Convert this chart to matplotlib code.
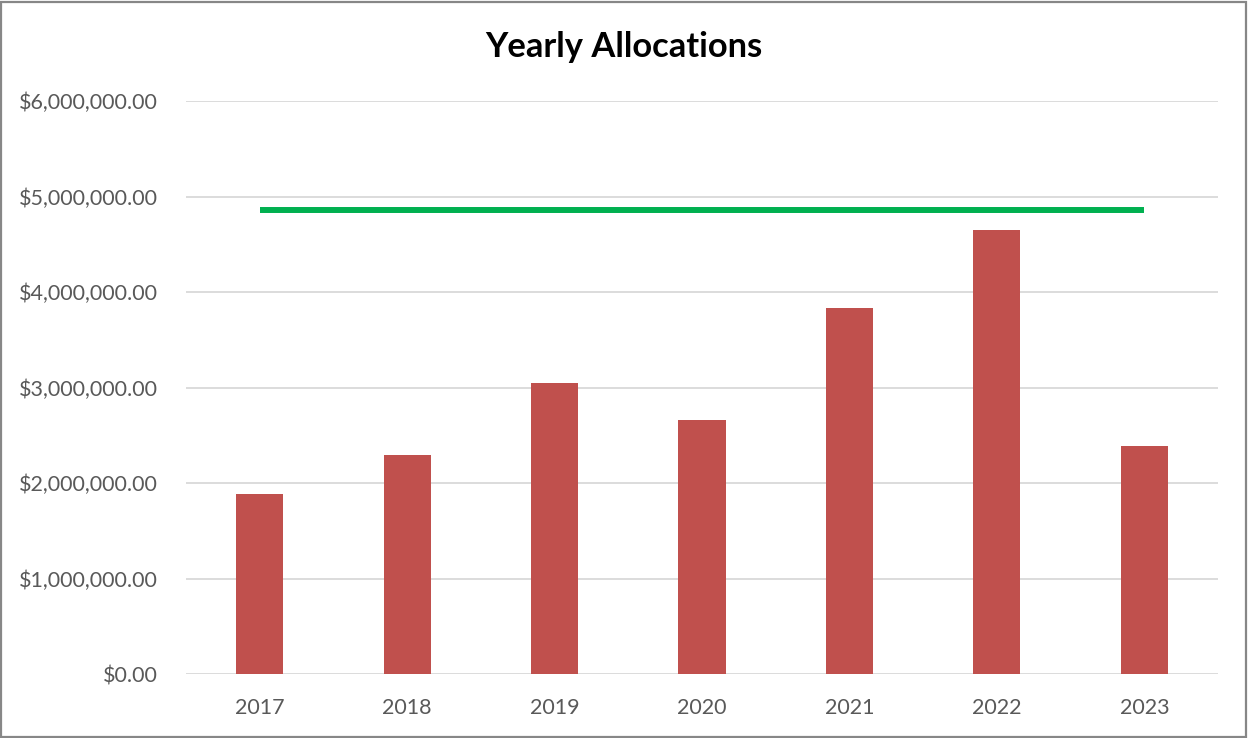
import matplotlib
matplotlib.use("Agg")
import matplotlib.pyplot as plt
from matplotlib.ticker import FuncFormatter
from matplotlib.patches import Rectangle

years = ["2017", "2018", "2019", "2020", "2021", "2022", "2023"]
allocations = [1885000, 2293000, 3047000, 2660000, 3832000, 4649000, 2387000]
target = [4859000] * len(years)
yticks = [0, 1000000, 2000000, 3000000, 4000000, 5000000, 6000000]

plt.rcParams['font.family'] = ['Lato', 'DejaVu Sans']

fig = plt.figure(figsize=(12.48, 7.38), dpi=100)
ax = fig.add_axes([0.149, 0.0867, 0.827, 0.7763])

x = list(range(len(years)))
ax.bar(x, allocations, width=0.32, color="#C0504D", zorder=3)
ax.plot(x, target, color="#00B050", linewidth=4.3, solid_capstyle="butt", zorder=4)

ax.set_xlim(-0.5, len(years) - 0.5)
ax.set_ylim(0, 6000000)
ax.set_yticks(yticks)
ax.yaxis.set_major_formatter(FuncFormatter(lambda v, p: "${:,.2f}".format(v)))
ax.set_xticks(x)
ax.set_xticklabels(years)
ax.grid(axis="y", color="#D9D9D9", linewidth=1.3, zorder=0)
ax.set_axisbelow(True)
for s in ax.spines.values():
    s.set_visible(False)
ax.tick_params(axis="both", length=0, labelsize=15.5, colors="#595959")
ax.tick_params(axis="y", pad=20)
ax.tick_params(axis="x", pad=17)

fig.text(0.5, 0.936, "Yearly Allocations", ha="center", va="center",
         fontsize=24.8, fontweight="bold", color="black")

fig.patches.append(Rectangle((0.001, 0.002), 0.997, 0.995, transform=fig.transFigure,
                             fill=False, edgecolor="#878787", linewidth=1.6))

fig.savefig("out.png", dpi=100)
